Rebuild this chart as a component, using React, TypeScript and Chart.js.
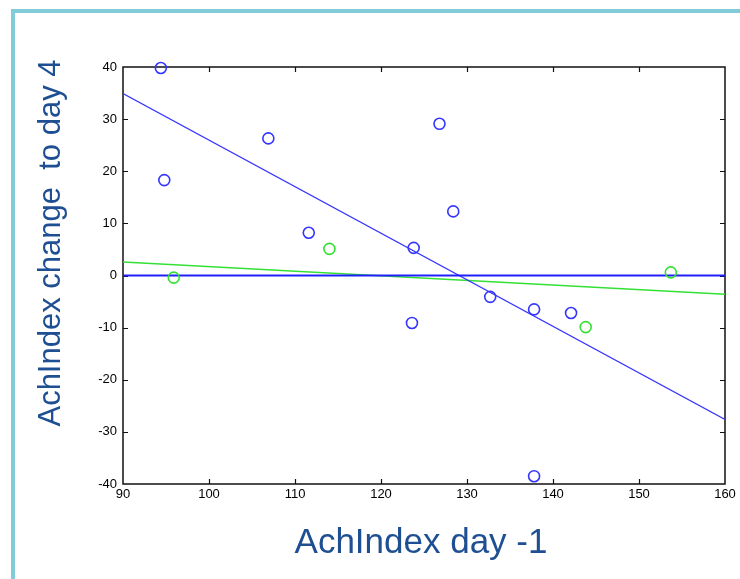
import React, { useEffect, useRef } from "react";
import { Chart, registerables } from "chart.js";

Chart.register(...registerables);

const xTickValues = [90, 100, 110, 120, 130, 140, 150, 160];
const yTickValues = [-40, -30, -20, -10, 0, 10, 20, 30, 40];

const blueX = [94.4, 94.8, 106.9, 111.6, 126.8, 128.4, 123.8, 123.6, 132.7, 137.8, 142.1, 137.8];
const blueY = [39.8, 18.3, 26.3, 8.2, 29.1, 12.3, 5.3, -9.1, -4.1, -6.5, -7.2, -38.5];

const greenX = [95.9, 114.0, 153.7, 143.8];
const greenY = [-0.4, 5.1, 0.6, -9.9];

const blueFitX = [90, 160];
const blueFitY = [34.9, -27.6];

const greenFitX = [90, 160];
const greenFitY = [2.6, -3.6];

const zeroX = [90, 160];
const zeroY = [0, 0];

const xTitle = "AchIndex day -1";
const yTitle = "AchIndex change  to day 4";

const BLUE = "#3535ff";
const GREEN = "#33e033";
const TITLE_COLOR = "#1f4f93";
const FONT = '"Liberation Sans", Arial, sans-serif';

const zip = (xs: number[], ys: number[]) => xs.map((x, i) => ({ x, y: ys[i] }));

const framePlugin = {
  id: "matlabFrame",
  beforeDatasetsDraw(chart: any) {
    const { ctx, chartArea } = chart;
    const xs = chart.scales.x;
    const ys = chart.scales.y;
    const { left, right, top, bottom } = chartArea;
    const tl = 5;
    ctx.save();
    ctx.strokeStyle = "#111";
    ctx.lineWidth = 1.5;
    ctx.strokeRect(left, top, right - left, bottom - top);
    ctx.beginPath();
    xTickValues.slice(1, -1).forEach((v) => {
      const px = Math.round(xs.getPixelForValue(v)) + 0.5;
      ctx.moveTo(px, bottom);
      ctx.lineTo(px, bottom - tl);
      ctx.moveTo(px, top);
      ctx.lineTo(px, top + tl);
    });
    yTickValues.slice(1, -1).forEach((v) => {
      const py = Math.round(ys.getPixelForValue(v)) + 0.5;
      ctx.moveTo(left, py);
      ctx.lineTo(left + tl, py);
      ctx.moveTo(right, py);
      ctx.lineTo(right - tl, py);
    });
    ctx.lineWidth = 1.2;
    ctx.stroke();
    ctx.restore();
  },
  afterDraw(chart: any) {
    const { ctx } = chart;
    ctx.save();
    ctx.fillStyle = TITLE_COLOR;
    ctx.textAlign = "center";
    ctx.textBaseline = "middle";
    ctx.font = `31px ${FONT}`;
    ctx.translate(51, 243);
    ctx.rotate(-Math.PI / 2);
    ctx.fillText(yTitle, 0, 0);
    ctx.restore();

    ctx.save();
    ctx.fillStyle = TITLE_COLOR;
    ctx.textAlign = "center";
    ctx.textBaseline = "middle";
    ctx.font = `35px ${FONT}`;
    ctx.fillText(xTitle, 421, 543);
    ctx.restore();
  },
};

export default function App() {
  const canvasRef = useRef<HTMLCanvasElement | null>(null);

  useEffect(() => {
    const canvas = canvasRef.current;
    if (!canvas) return;
    const pointStyle = {
      showLine: false,
      pointStyle: "circle",
      pointRadius: 5.5,
      pointBorderWidth: 1.6,
      pointBackgroundColor: "rgba(0,0,0,0)",
      clip: false,
    };
    const lineStyle = {
      showLine: true,
      pointRadius: 0,
      fill: false,
    };
    const chart = new Chart(canvas, {
      type: "scatter",
      data: {
        datasets: [
          { ...pointStyle, data: zip(blueX, blueY), pointBorderColor: BLUE, borderColor: BLUE },
          { ...pointStyle, data: zip(greenX, greenY), pointBorderColor: GREEN, borderColor: GREEN },
          { ...lineStyle, data: zip(zeroX, zeroY), borderColor: "#2020ff", borderWidth: 2 },
          { ...lineStyle, data: zip(blueFitX, blueFitY), borderColor: BLUE, borderWidth: 1.2 },
          { ...lineStyle, data: zip(greenFitX, greenFitY), borderColor: GREEN, borderWidth: 1.4 },
        ] as any,
      },
      options: {
        animation: false,
        responsive: false,
        devicePixelRatio: 1,
        layout: { padding: { left: 0, top: 67, right: 15, bottom: 0 } },
        plugins: {
          legend: { display: false },
          tooltip: { enabled: false },
        },
        scales: {
          x: {
            type: "linear",
            min: 90,
            max: 160,
            afterBuildTicks: (scale: any) => {
              scale.ticks = xTickValues.map((v) => ({ value: v }));
            },
            afterFit: (scale: any) => {
              scale.height = 95;
            },
            grid: { display: false, drawTicks: false },
            border: { display: false },
            ticks: {
              padding: 3,
              color: "#000",
              font: { family: FONT, size: 13 },
              maxRotation: 0,
            },
          },
          y: {
            type: "linear",
            min: -40,
            max: 40,
            afterBuildTicks: (scale: any) => {
              scale.ticks = yTickValues.map((v) => ({ value: v }));
            },
            afterFit: (scale: any) => {
              scale.width = 123;
            },
            grid: { display: false, drawTicks: false },
            border: { display: false },
            ticks: {
              padding: 6,
              color: "#000",
              font: { family: FONT, size: 13 },
            },
          },
        },
      } as any,
      plugins: [framePlugin],
    });
    return () => chart.destroy();
  }, []);

  return (
    <div
      style={{
        position: "absolute",
        left: 0,
        top: 0,
        width: 740,
        height: 579,
        overflow: "hidden",
        background: "#fff",
      }}
    >
      <div
        style={{
          position: "absolute",
          left: 11,
          top: 9,
          width: 900,
          height: 900,
          borderLeft: "4px solid #82cbd9",
          borderTop: "4px solid #82cbd9",
        }}
      />
      <canvas
        ref={canvasRef}
        width={740}
        height={579}
        style={{ position: "absolute", left: 0, top: 0, width: 740, height: 579 }}
      />
    </div>
  );
}
